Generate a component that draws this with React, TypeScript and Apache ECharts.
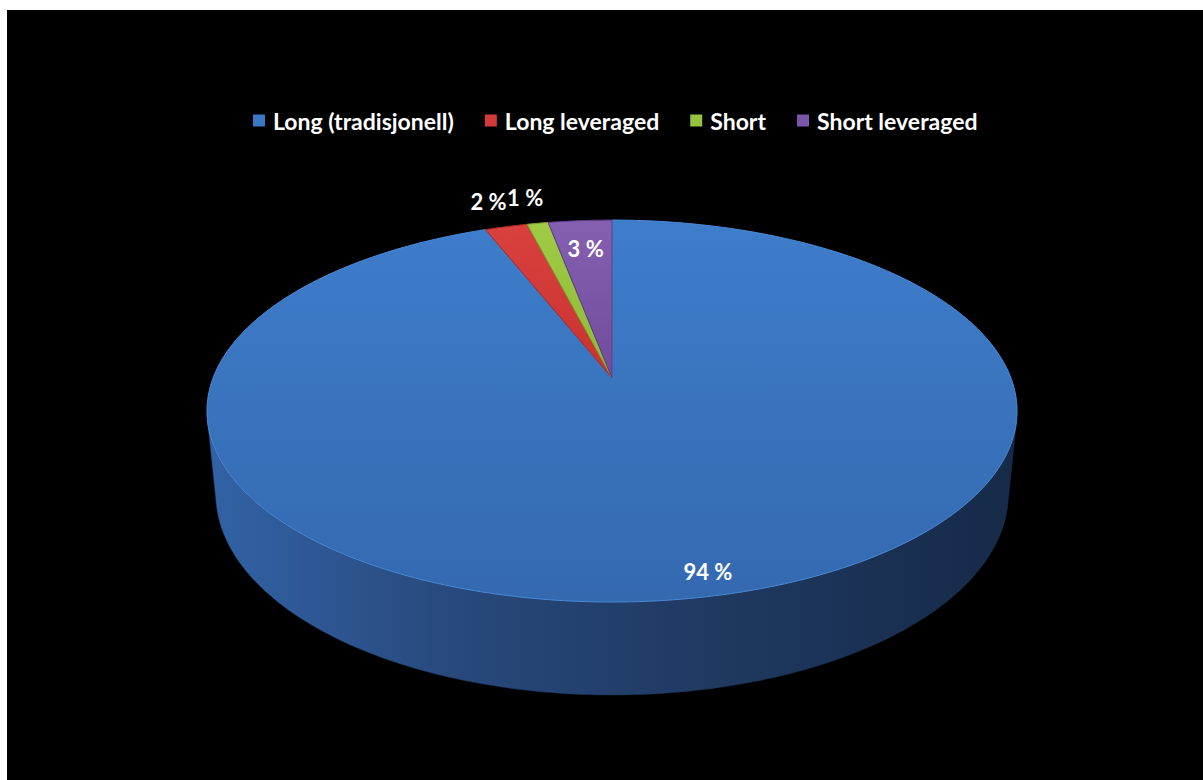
import React, { useEffect, useRef } from "react";
import * as echarts from "echarts";

// Portfolio split by position type (percent)
const categories = ["Long (tradisjonell)", "Long leveraged", "Short", "Short leveraged"];
const shares = [94, 2, 1, 3];

// Slice styling
const topColors = [
  ["#3e7dcb", "#3469b0"],
  ["#d8413d", "#c9332f"],
  ["#9fcb45", "#8fb93a"],
  ["#8560b2", "#714c9c"],
];
const edgeColors = ["#4a8ad8", "#a82a27", "#7c9f32", "#5c3d85"];
const legendColors = ["#3b78c6", "#d23b38", "#97c33f", "#7b55a7"];
// placement of each percentage label: radius (1 = rim) and angular nudge in degrees
const labelRadius = [0.906, 1.2, 1.2, 0.8];
const labelNudge = [-2.2, 0, 0, 0];

// Perspective camera looking down at a unit-radius disc
const CAM_F = 2042;
const CAM_H = 2.377;
const CAM_D = 4.533;
const CAM_L = Math.sqrt(CAM_H * CAM_H + CAM_D * CAM_D);
const THICK = 0.2369;

function project(cx: number, cy: number, X: number, Y: number, Z: number) {
  const depth = (CAM_H * (CAM_H - Y) + CAM_D * (CAM_D - Z)) / CAM_L;
  const x = cx + (CAM_F * X) / depth;
  const y = cy + (CAM_F * (CAM_H * Z - CAM_D * Y)) / (CAM_L * depth);
  return [x, y];
}

// angle in degrees, clockwise from the far (top) point of the disc
function rimPoint(cx: number, cy: number, deg: number, r: number, Y: number) {
  const a = (deg * Math.PI) / 180;
  return project(cx, cy, r * Math.sin(a), Y, -r * Math.cos(a));
}

function arcPoints(cx: number, cy: number, a0: number, a1: number, r: number, Y: number) {
  const pts: number[][] = [];
  const n = Math.max(2, Math.ceil(Math.abs(a1 - a0) / 1));
  for (let k = 0; k <= n; k++) {
    pts.push(rimPoint(cx, cy, a0 + ((a1 - a0) * k) / n, r, Y));
  }
  return pts;
}

const total = shares.reduce((s, v) => s + v, 0);
// front part of the side wall that faces the camera
const wallFrom = (Math.acos(-1 / CAM_D) * 180) / Math.PI;
const wallTo = 360 - wallFrom;

export default function App() {
  const ref = useRef<HTMLDivElement>(null);

  useEffect(() => {
    if (!ref.current) return;
    const chart = echarts.init(ref.current, null, { renderer: "svg" });

    const series = categories.map((name, i) => ({
      type: "custom",
      name,
      coordinateSystem: "none",
      itemStyle: { color: legendColors[i] },
      data: [shares[i]],
      renderItem: (params: any, api: any) => {
        const cx = 605;
        const cy = 368;
        const idx = params.seriesIndex;
        const before = shares.slice(0, idx).reduce((s, v) => s + v, 0);
        const a0 = (before / total) * 360;
        const a1 = a0 + (api.value(0) / total) * 360;
        const children: any[] = [];

        const s = Math.max(a0, wallFrom);
        const e = Math.min(a1, wallTo);
        if (e > s) {
          const top = arcPoints(cx, cy, s, e, 1, 0);
          const bottom = arcPoints(cx, cy, e, s, 1, -THICK);
          children.push({
            type: "polygon",
            shape: { points: top.concat(bottom) },
            style: {
              fill: new echarts.graphic.LinearGradient(0, 0, 1, 0, [
                { offset: 0, color: "#3263a6" },
                { offset: 0.3, color: "#28497c" },
                { offset: 0.65, color: "#1e385f" },
                { offset: 1, color: "#162a48" },
              ]),
              stroke: "#1a3153",
              lineWidth: 0.5,
            },
          });
        }

        const face = [[cx, cy] as number[]].concat(arcPoints(cx, cy, a0, a1, 1, 0));
        children.push({
          type: "polygon",
          shape: { points: face },
          style: {
            fill: new echarts.graphic.LinearGradient(0, 0, 0, 1, [
              { offset: 0, color: topColors[idx][0] },
              { offset: 1, color: topColors[idx][1] },
            ]),
            stroke: edgeColors[idx],
            lineWidth: 1,
            lineJoin: "round",
          },
        });

        const mid = (a0 + a1) / 2 + labelNudge[idx];
        const [lx, ly] = rimPoint(cx, cy, mid, labelRadius[idx], 0);
        children.push({
          type: "text",
          style: {
            text: `${api.value(0)} %`,
            x: lx,
            y: ly,
            fill: "#ffffff",
            fontSize: 22,
            fontWeight: "bold",
            fontFamily: "Lato",
            align: "center",
            verticalAlign: "middle",
          },
        });

        return { type: "group", children };
      },
    }));

    chart.setOption({
      animation: false,
      backgroundColor: "#000000",
      legend: {
        data: categories,
        left: 241,
        top: 94,
        icon: "rect",
        itemWidth: 12,
        itemHeight: 12,
        itemGap: 31,
        textStyle: {
          color: "#ffffff",
          fontSize: 23,
          fontFamily: "Lato",
          fontWeight: "bold",
          padding: [0, 0, 0, 3],
        },
      },
      series,
    });

    return () => chart.dispose();
  }, []);

  return (
    <div
      ref={ref}
      style={{ position: "absolute", left: 7, top: 10, width: 1196, height: 770 }}
    />
  );
}
